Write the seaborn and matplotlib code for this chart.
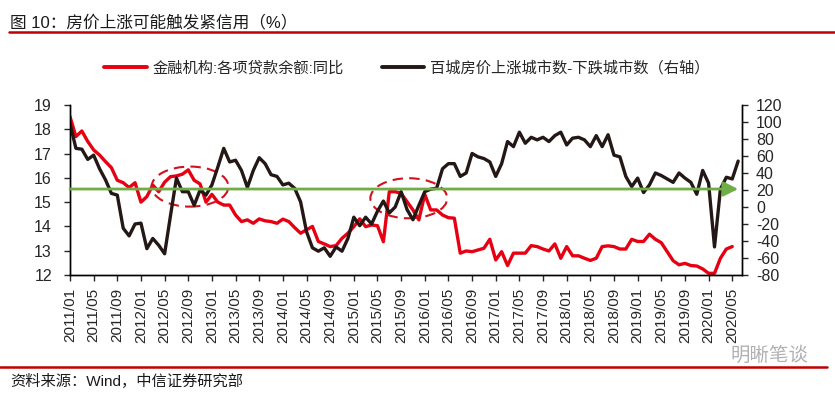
import matplotlib
matplotlib.use("Agg")
import matplotlib.pyplot as plt
from matplotlib.patches import Ellipse
from matplotlib.lines import Line2D
import seaborn as sns
import pandas as pd
import numpy as np

# 金融机构:各项贷款余额:同比 (%), 2011/01 - 2020/05
loan_yoy = [18.52, 17.70, 17.93, 17.50, 17.15, 16.94, 16.67, 16.42, 15.90, 15.80,
            15.60, 15.80, 15.00, 15.23, 15.70, 15.43, 15.82, 16.05, 16.08, 16.15,
            16.33, 15.90, 15.75, 15.00, 15.32, 15.00, 14.88, 14.88, 14.47, 14.20,
            14.27, 14.13, 14.31, 14.23, 14.20, 14.13, 14.30, 14.20, 13.95, 13.72,
            13.86, 14.00, 13.38, 13.28, 13.17, 13.21, 13.51, 13.72, 13.99, 14.31,
            13.99, 14.06, 14.03, 13.37, 15.43, 15.43, 15.36, 15.02, 14.68, 14.27,
            15.32, 14.68, 14.68, 14.47, 14.36, 14.34, 12.90, 12.99, 12.96, 13.03,
            13.10, 13.47, 12.62, 12.96, 12.39, 12.90, 12.90, 12.90, 13.21, 13.17,
            13.07, 12.99, 13.28, 12.69, 13.17, 12.79, 12.79, 12.69, 12.60, 12.69,
            13.17, 13.20, 13.17, 13.07, 13.07, 13.47, 13.38, 13.38, 13.68, 13.47,
            13.33, 12.96, 12.59, 12.42, 12.48, 12.39, 12.37, 12.25, 12.07, 12.07,
            12.69, 13.07, 13.17]

# 百城房价上涨城市数-下跌城市数, 2011/01 - 2020/06
city_diff = [98, 69, 68, 56, 61, 45, 32, 16, 14, -25,
             -34, -20, -19, -49, -37, -45, -55, -10, 34, 18,
             18, 2, 20, 14, 26, 47, 69, 53, 55, 43,
             23, 43, 58, 51, 38, 36, 26, 28, 22, 6,
             -29, -48, -52, -48, -58, -47, -52, -37, -12, -22,
             -12, -20, -5, 7, -7, 0, 18, -3, -15, 2,
             18, 21, 22, 45, 51, 51, 36, 40, 63, 59,
             57, 53, 36, 51, 77, 71, 88, 75, 82, 79,
             82, 77, 84, 88, 73, 81, 82, 79, 71, 84,
             71, 85, 61, 59, 36, 24, 34, 17, 26, 40,
             37, 33, 29, 40, 34, 29, 15, 43, 28, -47,
             21, 35, 33, 54]

months = pd.date_range("2011-01-01", periods=len(city_diff), freq="MS")
df = pd.DataFrame({
    "idx": np.arange(len(months)),
    "loan": loan_yoy + [np.nan] * (len(city_diff) - len(loan_yoy)),
    "city": city_diff,
})
tick_idx = np.arange(0, len(months), 4)
tick_labels = [d.strftime("%Y/%m") for d in months[tick_idx]]

red = "#E60012"
black = "#231815"
green = "#70AD47"
dark_red = "#C00000"

sns.set_style("ticks")
plt.rcParams["font.family"] = ["Liberation Sans", "Noto Sans CJK SC"]
plt.rcParams["axes.unicode_minus"] = False

fig = plt.figure(figsize=(8.35, 3.93), dpi=100)
ax = fig.add_axes([70 / 835, 1 - 275 / 393, 672 / 835, 170 / 393])
ax2 = ax.twinx()

sns.lineplot(data=df, x="idx", y="loan", ax=ax, color=red, lw=2.4)
sns.lineplot(data=df, x="idx", y="city", ax=ax2, color=black, lw=2.4)

ax.set_xlim(0, 113.65)
ax.set_ylim(12, 19)
ax2.set_ylim(-80, 120)
ax.set_yticks(range(12, 20))
ax2.set_yticks(range(-80, 121, 20))
ax.set_xticks(tick_idx)
ax.set_xticklabels(tick_labels, rotation=90)
for a in (ax, ax2):
    a.set_xlabel("")
    a.set_ylabel("")
    a.spines["top"].set_visible(False)
    for s in a.spines.values():
        s.set_linewidth(1.0)
        s.set_color("black")
ax.tick_params(axis="y", labelsize=11.5, length=4, width=1, pad=9, direction="out")
ax2.tick_params(axis="y", labelsize=11.5, length=4, width=1, pad=6, direction="out")
ax.tick_params(axis="x", labelsize=11, length=4, width=1, pad=5, direction="out")

# green reference arrow and dashed ellipses (drawn on top)
arrow_level = 15.54
ax2.annotate("", xy=(113.0, arrow_level), xytext=(0, arrow_level),
             xycoords=ax.transData, textcoords=ax.transData,
             arrowprops=dict(arrowstyle="-|>", color=green, lw=2,
                             mutation_scale=22, shrinkA=0, shrinkB=0))
for cx, cy in [(20.3, 15.64), (57.3, 15.16)]:
    e = Ellipse((cx, cy), 13, 1.65, transform=ax.transData, fill=False,
                edgecolor="#D0121B", lw=1.5, ls=(0, (5, 3)))
    ax2.add_patch(e)

handles = [Line2D([], [], color=red, lw=2.8), Line2D([], [], color=black, lw=2.8)]
fig.legend(handles, ["金融机构:各项贷款余额:同比", "百城房价上涨城市数-下跌城市数（右轴）"],
           loc="center", bbox_to_anchor=(0.487, 1 - 68 / 393), ncol=2, frameon=False,
           fontsize=11, handlelength=2.8, handletextpad=0.35, columnspacing=2.5)

# title, header/footer lines, source and watermark
fig.text(10 / 835, 1 - 22 / 393, "图 10：房价上涨可能触发紧信用（%）", fontsize=12,
         color="#1a1a1a", va="center", ha="left")
fig.add_artist(Line2D([9 / 835, 1], [1 - 32 / 393] * 2, color=dark_red, lw=1.8))
fig.add_artist(Line2D([0, 827 / 835], [1 - 367 / 393] * 2, color=dark_red, lw=1.8))
fig.text(10 / 835, 1 - 381 / 393, "资料来源：Wind，中信证券研究部", fontsize=11,
         color="#1a1a1a", va="center", ha="left")
fig.text(730 / 835, 1 - 356 / 393, "明晰笔谈", fontsize=14, color="#b0b0b0",
         va="center", ha="left")

fig.savefig("out.png", dpi=100)
